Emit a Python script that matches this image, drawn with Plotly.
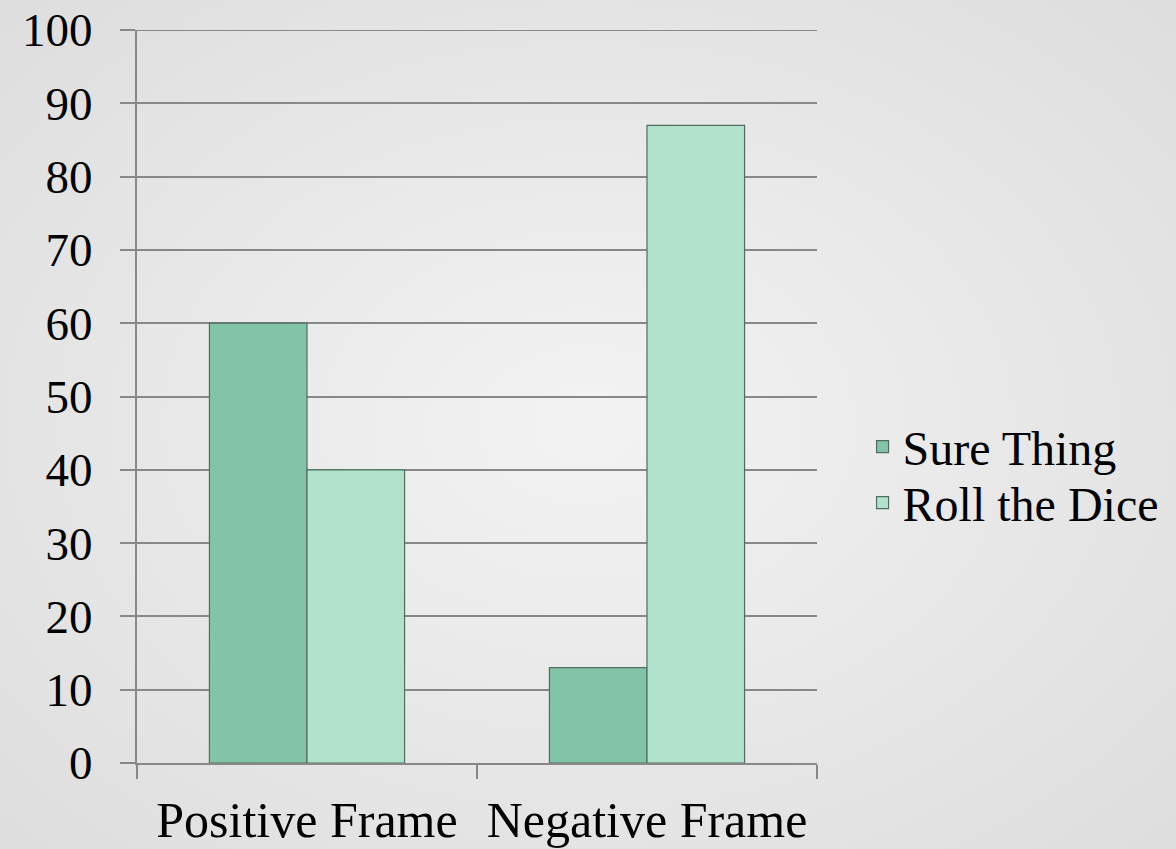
import plotly.graph_objects as go

categories = ["Positive Frame", "Negative Frame"]
sure_thing = [60, 13]
roll_dice = [40, 87]
series_names = ["Sure Thing", "Roll the Dice"]
y_ticks = [0, 10, 20, 30, 40, 50, 60, 70, 80, 90, 100]

W, H = 1176, 849
L, R, T, B = 137, 359, 30, 86
FONT = "Liberation Serif, DejaVu Serif, serif"

fig = go.Figure()
fig.add_trace(go.Bar(
    x=categories, y=sure_thing, name=series_names[0], legend="legend",
    marker=dict(color="#83C3A7", line=dict(color="#4F6E61", width=1.2)),
))
fig.add_trace(go.Bar(
    x=categories, y=roll_dice, name=series_names[1], legend="legend2",
    marker=dict(color="#B0E2CC", line=dict(color="#4F6E61", width=1.2)),
))

svg = (
    "data:image/svg+xml;utf8,"
    "<svg xmlns='http://www.w3.org/2000/svg' width='1176' height='849' viewBox='0 0 1176 849' preserveAspectRatio='none'>"
    "<defs><radialGradient id='g' cx='50%' cy='50%' r='75%'>"
    "<stop offset='0%' stop-color='%23F3F3F3'/><stop offset='100%' stop-color='%23DCDCDC'/>"
    "</radialGradient></defs><rect width='1176' height='849' fill='url(%23g)'/></svg>"
)
pw, ph = W - L - R, H - T - B
fig.add_layout_image(dict(
    source=svg, xref="paper", yref="paper",
    x=-L / pw, y=1 + T / ph, sizex=W / pw, sizey=H / ph,
    xanchor="left", yanchor="top", sizing="stretch", layer="below",
))

# top gridline at the last tick (plotly skips grid at the range edge)
fig.add_shape(type="line", xref="paper", yref="y", x0=-15 / pw, x1=1,
              y0=y_ticks[-1], y1=y_ticks[-1],
              line=dict(color="#888888", width=2), layer="below")

legend_common = dict(
    xanchor="left", yanchor="middle",
    font=dict(family=FONT, size=48, color="#000000"),
    bgcolor="rgba(0,0,0,0)", itemwidth=30,
)

fig.update_layout(
    width=W, height=H,
    margin=dict(l=L, r=R, t=T, b=B, pad=0, autoexpand=False),
    paper_bgcolor="#E6E6E6",
    plot_bgcolor="rgba(0,0,0,0)",
    barmode="group", bargap=0.426, bargroupgap=0,
    font=dict(family=FONT, size=47, color="#000000"),
    showlegend=True,
    legend=dict(x=1.067, y=(763 - 447) / ph, **legend_common),
    legend2=dict(x=1.067, y=(763 - 503) / ph, **legend_common),
    xaxis=dict(
        type="category", showline=True, linecolor="#888888", linewidth=2,
        ticks="outside", tickson="boundaries", ticklen=14, tickwidth=2,
        tickcolor="#888888", showgrid=False, tickfont=dict(size=50),
        ticklabelstandoff=12, automargin=False,
    ),
    yaxis=dict(
        range=[0, 100], tickvals=y_ticks, showline=True, linecolor="#888888",
        linewidth=2, ticks="outside", ticklen=15, tickwidth=2, tickcolor="#888888",
        showgrid=True, gridcolor="#888888", gridwidth=2, zeroline=False,
        tickfont=dict(size=47), ticklabelstandoff=18, automargin=False,
    ),
)

fig.write_html("out.html")
